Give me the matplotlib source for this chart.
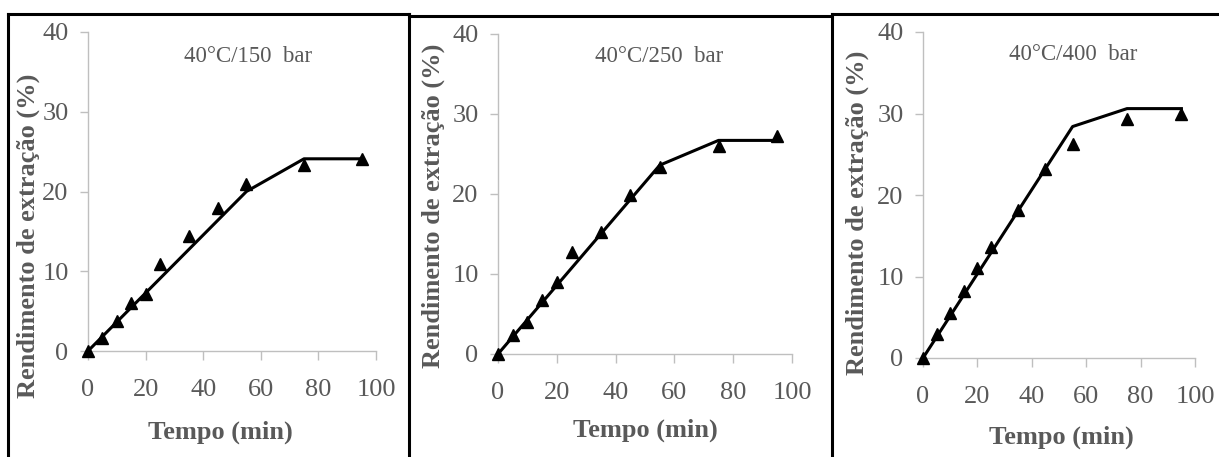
import matplotlib
matplotlib.use("Agg")
import matplotlib.pyplot as plt
from matplotlib.lines import Line2D

# ---- data ----
time_min = [0, 5, 10, 15, 20, 25, 35, 45, 55, 75, 95]
yield_150 = [0, 1.6, 3.7, 6.0, 7.1, 10.9, 14.4, 17.9, 21.0, 23.3, 24.1]
yield_250 = [0, 2.4, 4.0, 6.8, 9.0, 12.8, 15.3, 19.9, 23.4, 26.0, 27.3]
yield_400 = [0, 2.9, 5.5, 8.2, 11.1, 13.6, 18.2, 23.2, 26.3, 29.3, 30.0]

model_t = [0, 55, 75, 95]
model_150 = [0, 20.0, 24.1, 24.1]
model_250 = [0, 23.6, 26.7, 26.7]
model_400 = [0, 28.4, 30.6, 30.6]

titles = ["40°C/150  bar", "40°C/250  bar", "40°C/400  bar"]
x_ticks = [0, 20, 40, 60, 80, 100]
y_ticks = [0, 10, 20, 30, 40]
xlabel = "Tempo (min)"
ylabel = "Rendimento de extração (%)"

W, H = 1219, 457
fig = plt.figure(figsize=(W / 100, H / 100), dpi=100)

SERIF = ["Liberation Serif", "DejaVu Serif"]
GRAY_TXT = "#595959"
GRAY_AX = "#bfbfbf"

# axes boxes in pixels: (left, right, y_at_0, y_at_40)
boxes = [(88, 376, 351, 32), (498, 792, 354, 34), (923, 1195, 358, 32)]
series = [yield_150, yield_250, yield_400]
models = [model_150, model_250, model_400]
title_pos = [(248, 57), (659, 57), (1073, 55)]
xlabel_pos = [(220, 432), (645, 430), (1061, 437)]
ylabel_pos = [(28, 236), (433, 206), (857, 213)]

for i in range(3):
    l, r, b, t = boxes[i]
    ax = fig.add_axes([l / W, 1 - b / H, (r - l) / W, (b - t) / H])
    ax.plot(model_t, models[i], color="black", lw=2.2, clip_on=False, zorder=3)
    ax.plot(time_min, series[i], linestyle="none", marker="^", color="black",
            markersize=9, clip_on=False, zorder=4)
    ax.set_xlim(0, 100)
    ax.set_ylim(0, 40)
    ax.set_xticks(x_ticks)
    ax.set_yticks(y_ticks)
    for s in ["top", "right"]:
        ax.spines[s].set_visible(False)
    for s in ["left", "bottom"]:
        ax.spines[s].set_color(GRAY_AX)
        ax.spines[s].set_linewidth(1.0)
    ax.tick_params(axis="both", direction="out", color=GRAY_AX, width=1.0,
                   labelcolor=GRAY_TXT, labelsize=19)
    ax.tick_params(axis="x", length=6.5, pad=14)
    ax.tick_params(axis="y", length=6, pad=8)
    for lab in ax.get_xticklabels() + ax.get_yticklabels():
        lab.set_family(SERIF)
    fig.text(title_pos[i][0] / W, 1 - title_pos[i][1] / H, titles[i],
             ha="center", va="center", fontsize=16.5, color=GRAY_TXT, family=SERIF)
    fig.text(xlabel_pos[i][0] / W, 1 - xlabel_pos[i][1] / H, xlabel,
             ha="center", va="center", fontsize=19, fontweight="bold",
             color=GRAY_TXT, family=SERIF)
    fig.text(ylabel_pos[i][0] / W, 1 - ylabel_pos[i][1] / H, ylabel,
             ha="center", va="center", rotation=90, fontsize=19,
             fontweight="bold", color=GRAY_TXT, family=SERIF)

# panel frames
def fline(x0, y0, x1, y1):
    fig.add_artist(Line2D([x0 / W, x1 / W], [1 - y0 / H, 1 - y1 / H],
                          transform=fig.transFigure, color="black", lw=2.2,
                          solid_capstyle="projecting"))

fline(8, 14, 409, 14)
fline(8, 14, 8, 460)
fline(409, 14, 409, 460)
fline(409, 16, 832, 16)
fline(832, 14, 832, 460)
fline(832, 14, 1222, 14)

fig.savefig("out.png", dpi=100)
